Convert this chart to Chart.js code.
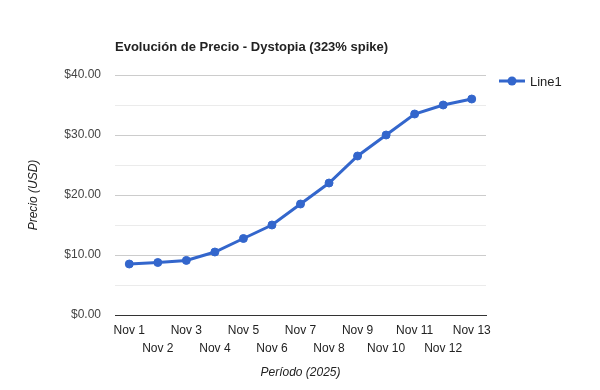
<!DOCTYPE html>
<html>
<head>
<meta charset="utf-8">
<script src="https://cdn.jsdelivr.net/npm/chart.js@4"></script>
<style>
  html, body { margin: 0; padding: 0; background: #fff; }
  #wrap { width: 600px; height: 390px; }
</style>
</head>
<body>
<div id="wrap"><canvas id="priceChart" width="600" height="390"></canvas></div>
<script>
// Chart data
const chartTitle = 'Evolución de Precio - Dystopia (323% spike)';
const seriesName = 'Line1';
const days = ['Nov 1', 'Nov 2', 'Nov 3', 'Nov 4', 'Nov 5', 'Nov 6', 'Nov 7',
              'Nov 8', 'Nov 9', 'Nov 10', 'Nov 11', 'Nov 12', 'Nov 13'];
const prices = [8.5, 8.75, 9.1, 10.5, 12.75, 15, 18.5, 22, 26.5, 30, 33.5, 35, 36];
const yTicks = [0, 10, 20, 30, 40];

const lineColor = '#3366cc';
const font = 'Arial, "Liberation Sans", sans-serif';

// Title and legend drawn next to the plot area, Google-chart style
const titleAndLegend = {
    id: 'titleAndLegend',
    afterDraw(chart) {
        const ctx = chart.ctx;
        const area = chart.chartArea;
        ctx.save();
        ctx.font = 'bold 13px ' + font;
        ctx.fillStyle = '#222';
        ctx.textAlign = 'left';
        ctx.textBaseline = 'middle';
        ctx.fillText(chartTitle, area.left, 47);

        // legend: line with a dot, then the series name
        const ly = area.top + 6;
        const lx = area.right + 13;
        ctx.strokeStyle = lineColor;
        ctx.lineWidth = 3;
        ctx.beginPath();
        ctx.moveTo(lx, ly);
        ctx.lineTo(lx + 26, ly);
        ctx.stroke();
        ctx.fillStyle = lineColor;
        ctx.beginPath();
        ctx.arc(lx + 13, ly, 4.5, 0, Math.PI * 2);
        ctx.fill();
        ctx.font = '13px ' + font;
        ctx.fillStyle = '#222';
        ctx.fillText(seriesName, lx + 31, ly + 1);
        ctx.restore();
    }
};

new Chart(document.getElementById('priceChart'), {
    type: 'line',
    data: {
        labels: days,
        datasets: [{
            label: seriesName,
            data: prices,
            borderColor: lineColor,
            backgroundColor: lineColor,
            borderWidth: 3,
            pointRadius: 4,
            pointBorderWidth: 1,
            pointHoverRadius: 4,
            tension: 0,
            fill: false
        }]
    },
    options: {
        responsive: false,
        animation: false,
        devicePixelRatio: 1,
        layout: { padding: { top: 75, right: 114, bottom: 8, left: 0 } },
        plugins: {
            legend: { display: false },
            title: { display: false },
            tooltip: { enabled: false }
        },
        scales: {
            x: {
                offset: true,
                grid: { display: false, drawTicks: false },
                border: { display: true, color: '#333', width: 1 },
                ticks: {
                    autoSkip: false,
                    maxRotation: 0,
                    minRotation: 0,
                    padding: 7,
                    color: '#222',
                    font: { family: font, size: 12, lineHeight: 1.5 },
                    // stagger labels on two rows
                    callback: function(value, index) {
                        const label = this.getLabelForValue(value);
                        return index % 2 === 0 ? [label, ''] : ['', label];
                    }
                },
                title: {
                    display: true,
                    text: 'Período (2025)',
                    color: '#222',
                    padding: { top: 0, bottom: 2 },
                    font: { family: font, size: 12, style: 'italic' }
                },
                afterFit(scale) { scale.height = 67; }
            },
            y: {
                min: 0,
                max: 40,
                grid: {
                    drawTicks: false,
                    color: ctx => (ctx.tick && yTicks.includes(ctx.tick.value)) ? '#cccccc' : '#ebebeb'
                },
                border: { display: false },
                ticks: {
                    stepSize: 5,
                    padding: 14,
                    color: '#444',
                    font: { family: font, size: 12 },
                    callback: v => yTicks.includes(v) ? '$' + v.toFixed(2) : ''
                },
                title: {
                    display: true,
                    text: 'Precio (USD)',
                    color: '#222',
                    padding: { top: 26, bottom: 0 },
                    font: { family: font, size: 12, style: 'italic' }
                },
                afterFit(scale) { scale.width = 115; }
            }
        }
    },
    plugins: [titleAndLegend]
});
</script>
</body>
</html>
